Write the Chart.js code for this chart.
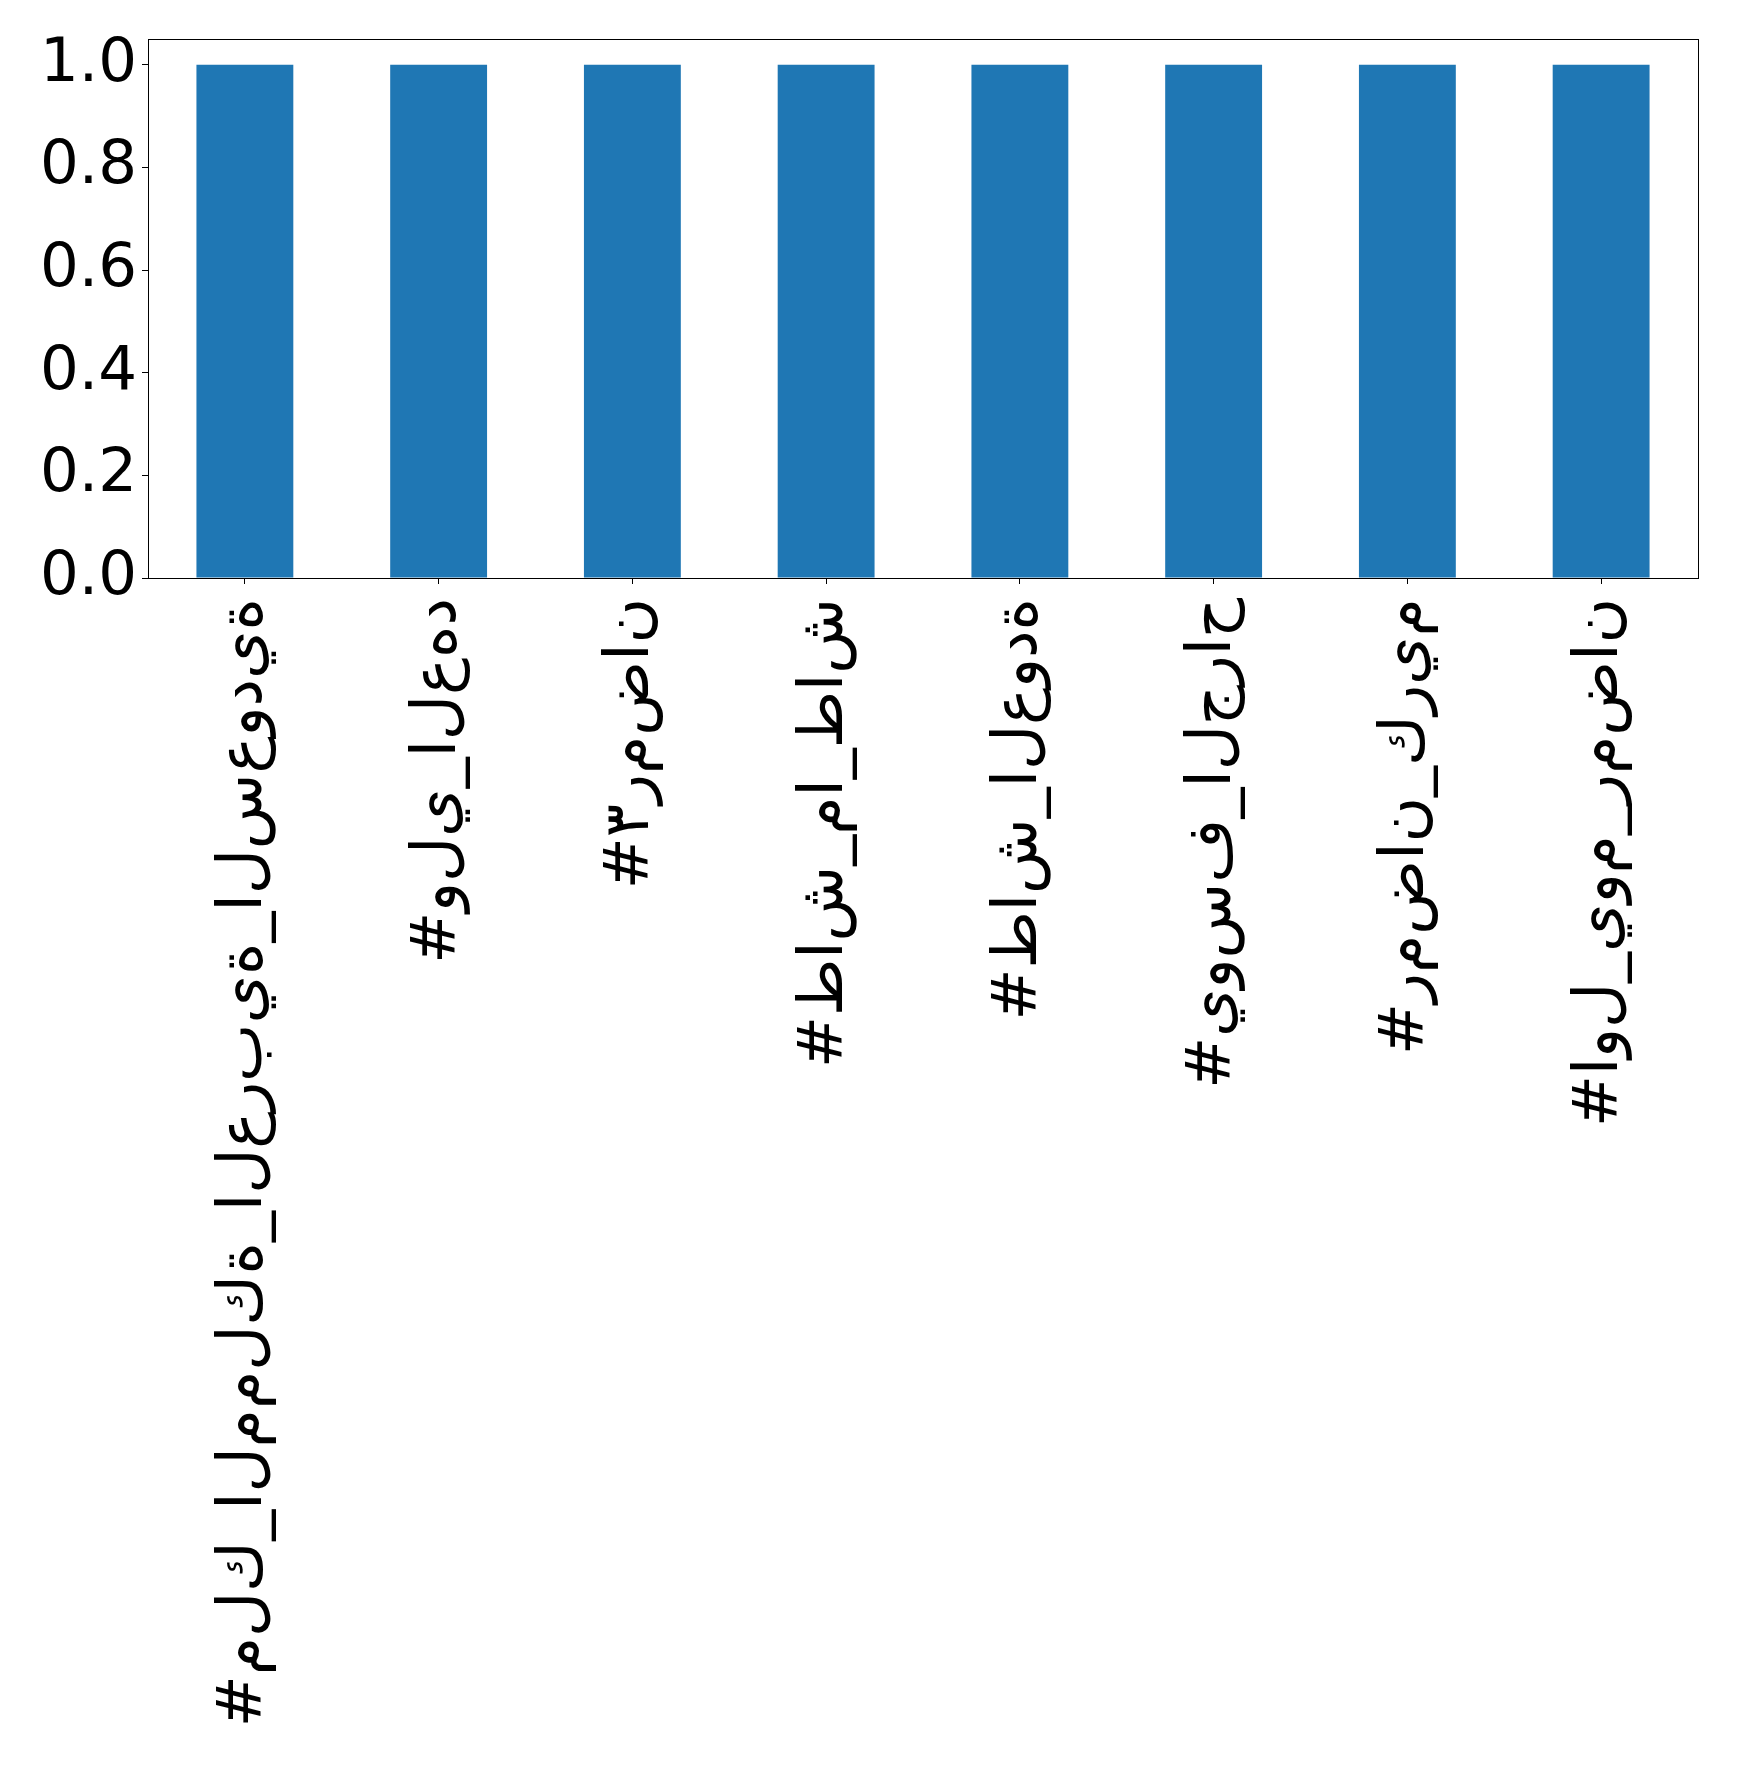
<!DOCTYPE html>
<html>
<head>
<meta charset="utf-8">
<script src="https://cdn.jsdelivr.net/npm/chart.js@4/dist/chart.umd.min.js"></script>
<style>
	html, body { margin:0; padding:0; background:#fff; }
	#wrap { width:1739px; height:1767px; }
</style>
</head>
<body>
<div id="wrap"><canvas id="chart" width="1739" height="1767"></canvas></div>
<script>
// hashtags (x categories)
var categories = [
	"#ملك_المملكة_العربية_السعودية",
	"#ولي_العهد",
	"#٣رمضان",
	"#طاش_ما_طاش",
	"#طاش_العودة",
	"#يوسف_الجراح",
	"#رمضان_كريم",
	"#اول_يوم_رمضان"
];
var counts = [1, 1, 1, 1, 1, 1, 1, 1];
var yTicks = [0, 0.2, 0.4, 0.6, 0.8, 1.0];

// the picture shows the letters unjoined, left to right (no bidi / shaping)
function unshaped(s){
	return "\u202D" + Array.from(s).join("\u200C") + "\u202C";
}

// frame around the plot area
var boxPlugin = {
	id: "box",
	afterDraw: function(chart){
		var a = chart.chartArea, ctx = chart.ctx;
		ctx.save();
		ctx.strokeStyle = "#000";
		ctx.lineWidth = 1;
		ctx.strokeRect(Math.round(a.left) + 0.5, Math.round(a.top) + 0.5,
			Math.round(a.right - a.left), Math.round(a.bottom - a.top));
		ctx.restore();
	}
};

Chart.defaults.font.family = "'DejaVu Sans', sans-serif";
Chart.defaults.color = "#000";

new Chart(document.getElementById("chart"), {
	type: "bar",
	data: {
		labels: categories,
		datasets: [{
			data: counts,
			backgroundColor: "#1f77b4",
			borderWidth: 0,
			categoryPercentage: 0.5,
			barPercentage: 1.0
		}]
	},
	options: {
		responsive: false,
		animation: false,
		layout: { padding: { top: 39, right: 41, left: 0, bottom: 0 } },
		plugins: { legend: { display: false }, tooltip: { enabled: false } },
		scales: {
			x: {
				offset: true,
				grid: { display: true, offset: false, drawOnChartArea: false, color: "#000", tickLength: 6, lineWidth: 1 },
				border: { display: true, color: "#000", width: 1 },
				ticks: {
					autoSkip: false, minRotation: 90, maxRotation: 90, padding: 14,
					font: { size: 62 },
					callback: function(v, i){ return unshaped(categories[i]); }
				},
				afterFit: function(scale){
					scale.height = 1767 - 578;
					scale.paddingLeft = 0;
					scale.paddingRight = 0;
				}
			},
			y: {
				min: 0,
				max: 1.05,
				grid: { display: true, drawOnChartArea: false, color: "#000", tickLength: 6, lineWidth: 1 },
				border: { display: true, color: "#000", width: 1 },
				ticks: {
					padding: 5,
					font: { size: 61 },
					callback: function(v){ return Number(v).toFixed(1); }
				},
				afterBuildTicks: function(scale){
					scale.ticks = yTicks.map(function(v){ return { value: v }; });
				},
				afterFit: function(scale){
					scale.width = 148;
					scale.paddingTop = 0;
					scale.paddingBottom = 0;
				}
			}
		}
	},
	plugins: [boxPlugin]
});
</script>
</body>
</html>
